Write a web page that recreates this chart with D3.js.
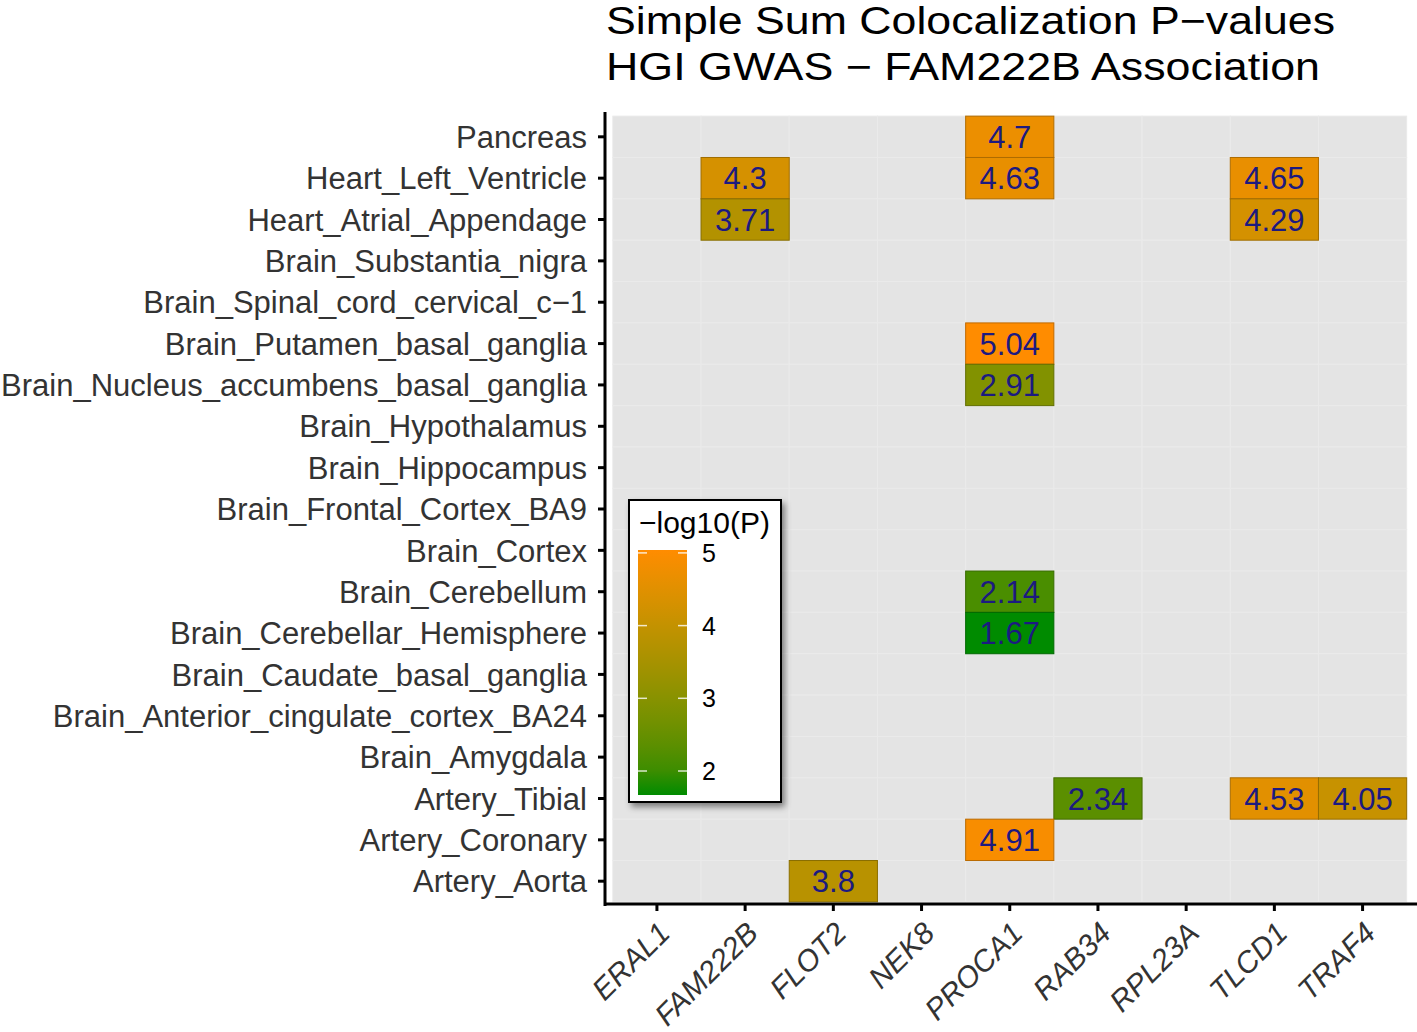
<!DOCTYPE html>
<meta charset="utf-8">
<script src="https://d3js.org/d3.v7.min.js"></script>
<style>
  body { margin: 0; background: #fff; }
  text { font-family: "Liberation Sans", Arial, Helvetica, sans-serif; }
</style>
<div id="chart"></div>
<script>

// tissues top to bottom, genes left to right
var tissues = ["Pancreas", "Heart_Left_Ventricle", "Heart_Atrial_Appendage",
  "Brain_Substantia_nigra", "Brain_Spinal_cord_cervical_c-1", "Brain_Putamen_basal_ganglia",
  "Brain_Nucleus_accumbens_basal_ganglia", "Brain_Hypothalamus", "Brain_Hippocampus",
  "Brain_Frontal_Cortex_BA9", "Brain_Cortex", "Brain_Cerebellum", "Brain_Cerebellar_Hemisphere",
  "Brain_Caudate_basal_ganglia", "Brain_Anterior_cingulate_cortex_BA24", "Brain_Amygdala",
  "Artery_Tibial", "Artery_Coronary", "Artery_Aorta"];
var genes = ["ERAL1", "FAM222B", "FLOT2", "NEK8", "PROCA1", "RAB34", "RPL23A", "TLCD1", "TRAF4"];

// the non-missing cells (-log10 P)
var hitTissue = ["Pancreas", "Heart_Left_Ventricle", "Heart_Left_Ventricle", "Heart_Left_Ventricle",
  "Heart_Atrial_Appendage", "Heart_Atrial_Appendage", "Brain_Putamen_basal_ganglia",
  "Brain_Nucleus_accumbens_basal_ganglia", "Brain_Cerebellum", "Brain_Cerebellar_Hemisphere",
  "Artery_Tibial", "Artery_Tibial", "Artery_Tibial", "Artery_Coronary", "Artery_Aorta"];
var hitGene = ["PROCA1", "FAM222B", "PROCA1", "TLCD1",
  "FAM222B", "TLCD1", "PROCA1",
  "PROCA1", "PROCA1", "PROCA1",
  "RAB34", "TLCD1", "TRAF4", "PROCA1", "FLOT2"];
var hitValue = [4.7, 4.3, 4.63, 4.65,
  3.71, 4.29, 5.04,
  2.91, 2.14, 1.67,
  2.34, 4.53, 4.05, 4.91, 3.8];

var legendTicks = [2, 3, 4, 5];

var W = 1417, H = 1032;

var svg = d3.select("#chart").append("svg")
  .attr("width", W)
  .attr("height", H);

// drop shadow for legend box
var defs = svg.append("defs");
defs.append("filter")
  .attr("id", "shadow")
  .attr("x", "-20%").attr("y", "-20%").attr("width", "150%").attr("height", "150%")
  .append("feDropShadow")
  .attr("dx", 3).attr("dy", 4).attr("stdDeviation", 3)
  .attr("flood-color", "#000").attr("flood-opacity", 0.45);

// scales (discrete axes expanded 0.6 of a step, tiles take 0.5)
var x = d3.scaleBand()
  .domain(genes)
  .range([604, 1415.5])
  .paddingInner(0)
  .paddingOuter(0.1);

var y = d3.scaleBand()
  .domain(tissues)
  .range([112, 906])
  .paddingInner(0)
  .paddingOuter(0.1);

var vmin = d3.min(hitValue), vmax = d3.max(hitValue);
var color = d3.scaleLinear()
  .domain([vmin, vmax])
  .range(["#008b00", "#ff8c00"])
  .interpolate(d3.interpolateLab);

// background (missing) tiles
var allCells = [];
tissues.forEach(function(t) {
  genes.forEach(function(g) { allCells.push({t: t, g: g}); });
});

svg.append("g")
  .selectAll("rect")
  .data(allCells)
  .enter().append("rect")
    .attr("x", function(d) { return x(d.g); })
    .attr("y", function(d) { return y(d.t); })
    .attr("width", x.bandwidth())
    .attr("height", y.bandwidth())
    .attr("fill", "#e4e4e4")
    .attr("stroke", "#eaeaea")
    .attr("stroke-width", 1);

var hits = hitValue.map(function(v, i) {
  return {t: hitTissue[i], g: hitGene[i], v: v};
});

svg.append("g")
  .selectAll("rect")
  .data(hits)
  .enter().append("rect")
    .attr("x", function(d) { return x(d.g); })
    .attr("y", function(d) { return y(d.t); })
    .attr("width", x.bandwidth())
    .attr("height", y.bandwidth())
    .attr("fill", function(d) { return color(d.v); })
    .attr("stroke", function(d) { return d3.color(color(d.v)).darker(0.8); })
    .attr("stroke-width", 1);

svg.append("g")
  .selectAll("text")
  .data(hits)
  .enter().append("text")
    .attr("x", function(d) { return x(d.g) + x.bandwidth() / 2; })
    .attr("y", function(d) { return y(d.t) + y.bandwidth() / 2; })
    .attr("dy", "0.36em")
    .attr("text-anchor", "middle")
    .attr("fill", "#1c1a80")
    .style("font-size", "31px")
    .text(function(d) { return d.v; });

// axes
var yAxis = svg.append("g")
  .attr("transform", "translate(605,0)")
  .call(d3.axisLeft(y).tickSize(7).tickPadding(11));
yAxis.select(".domain").attr("d", "M0,112V906").attr("stroke-width", 3);
yAxis.selectAll(".tick line").attr("stroke-width", 3);
yAxis.selectAll("text")
  .attr("fill", "#333")
  .style("font-size", "31px")
  .attr("dy", "0.36em")
  .text(function(d) { return d.replace(/-/g, "\u2212"); });

var xAxis = svg.append("g")
  .attr("transform", "translate(0,904)")
  .call(d3.axisBottom(x).tickSize(7).tickPadding(6));
xAxis.select(".domain").attr("d", "M604,0H1417").attr("stroke-width", 3);
xAxis.selectAll(".tick line").attr("stroke-width", 3);
xAxis.selectAll("text")
  .attr("fill", "#333")
  .style("font-size", "30px")
  .style("font-style", "italic")
  .attr("text-anchor", "end")
  .attr("x", 0)
  .attr("y", 16)
  .attr("dy", "0.7em")
  .attr("transform", "rotate(-45,0,16)");

// title
var title = svg.append("g").attr("transform", "translate(606,0)");
title.append("text").attr("x", 0).attr("y", 34)
  .style("font-size", "38px").attr("fill", "#000")
  .attr("textLength", 729).attr("lengthAdjust", "spacingAndGlyphs")
  .text("Simple Sum Colocalization P\u2212values");
title.append("text").attr("x", 0).attr("y", 80)
  .style("font-size", "38px").attr("fill", "#000")
  .attr("textLength", 714).attr("lengthAdjust", "spacingAndGlyphs")
  .text("HGI GWAS \u2212 FAM222B Association");

// legend
var leg = svg.append("g").attr("transform", "translate(629,500)");
leg.append("rect")
  .attr("width", 152).attr("height", 302)
  .attr("fill", "#fff").attr("stroke", "#000").attr("stroke-width", 2)
  .attr("filter", "url(#shadow)");
leg.append("text")
  .attr("x", 10).attr("y", 33)
  .style("font-size", "30px").attr("fill", "#000")
  .text("\u2212log10(P)");

var barTop = 50, barBottom = 295, barX = 9, barW = 49;
var ly = d3.scaleLinear().domain([vmin, vmax]).range([barBottom, barTop]);

var grad = defs.append("linearGradient")
  .attr("id", "bar").attr("x1", 0).attr("y1", 1).attr("x2", 0).attr("y2", 0);
d3.range(0, 1.0001, 0.1).forEach(function(f) {
  grad.append("stop")
    .attr("offset", f)
    .attr("stop-color", color(vmin + f * (vmax - vmin)));
});
leg.append("rect")
  .attr("x", barX).attr("y", barTop)
  .attr("width", barW).attr("height", barBottom - barTop)
  .attr("fill", "url(#bar)");

leg.selectAll(".tk")
  .data(legendTicks)
  .enter().append("g")
  .each(function(v) {
    var g = d3.select(this), yy = ly(v);
    g.append("line").attr("x1", barX).attr("x2", barX + 9).attr("y1", yy).attr("y2", yy)
      .attr("stroke", "#fff").attr("stroke-width", 1.5).attr("opacity", 0.8);
    g.append("line").attr("x1", barX + barW - 9).attr("x2", barX + barW).attr("y1", yy).attr("y2", yy)
      .attr("stroke", "#fff").attr("stroke-width", 1.5).attr("opacity", 0.8);
    g.append("text").attr("x", barX + barW + 15).attr("y", yy).attr("dy", "0.36em")
      .style("font-size", "25px").attr("fill", "#000").text(v);
  });

</script>
